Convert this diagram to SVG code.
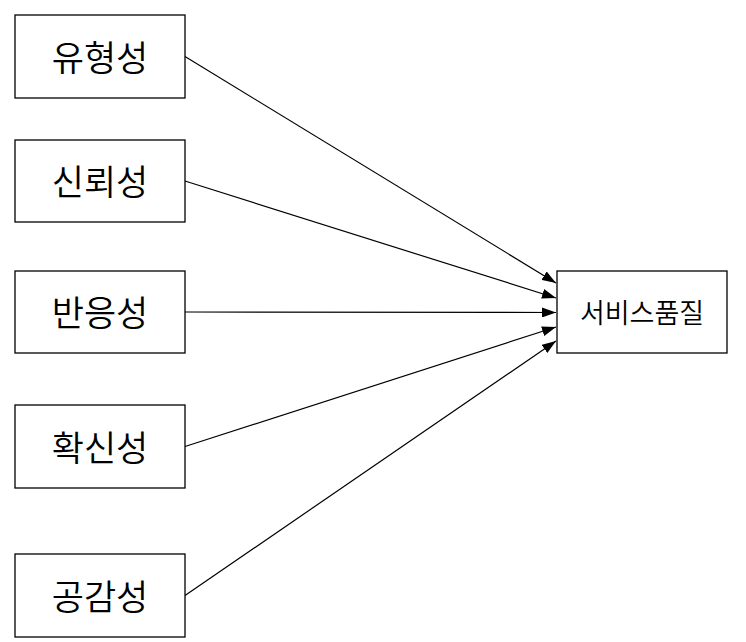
<svg xmlns="http://www.w3.org/2000/svg" width="746" height="642" viewBox="0 0 746 642">
<style>
.box{fill:#fff;stroke:#000;stroke-width:1.3}
.lbl{font-family:"Noto Sans CJK KR","Noto Sans",sans-serif;font-size:35px;font-weight:350;fill:#000;text-anchor:middle;dominant-baseline:central}
.sm{font-size:27px}
.edge{stroke:#000;stroke-width:1.2;fill:none;marker-end:url(#ah)}
</style>
<defs>
<marker id="ah" markerWidth="14" markerHeight="10" refX="14" refY="5" orient="auto" markerUnits="userSpaceOnUse">
<path d="M0,0 L14,5 L0,10 Z" fill="#000"/>
</marker>
</defs>
<rect width="746" height="642" fill="#fff"/>
<g id="connectors">
<line class="edge" x1="185" y1="56.5" x2="556" y2="283"/>
<line class="edge" x1="185" y1="181" x2="556" y2="298"/>
<line class="edge" x1="185" y1="312" x2="556" y2="312.5"/>
<line class="edge" x1="185" y1="446.5" x2="556" y2="327"/>
<line class="edge" x1="185" y1="595.5" x2="556" y2="341"/>
</g>
<g id="n1"><rect class="box" x="15" y="15" width="170" height="83"/><text class="lbl" x="100" y="55">유형성</text></g>
<g id="n2"><rect class="box" x="15" y="140" width="170" height="82"/><text class="lbl" x="100" y="179.5">신뢰성</text></g>
<g id="n3"><rect class="box" x="15" y="271" width="170" height="82"/><text class="lbl" x="100" y="310.5">반응성</text></g>
<g id="n4"><rect class="box" x="15" y="405" width="170" height="83"/><text class="lbl" x="100" y="445">확신성</text></g>
<g id="n5"><rect class="box" x="15" y="554" width="170" height="83"/><text class="lbl" x="100" y="594">공감성</text></g>
<g id="n6"><rect class="box" x="557" y="271" width="170" height="82"/><text class="lbl sm" x="642" y="311">서비스품질</text></g>
</svg>
